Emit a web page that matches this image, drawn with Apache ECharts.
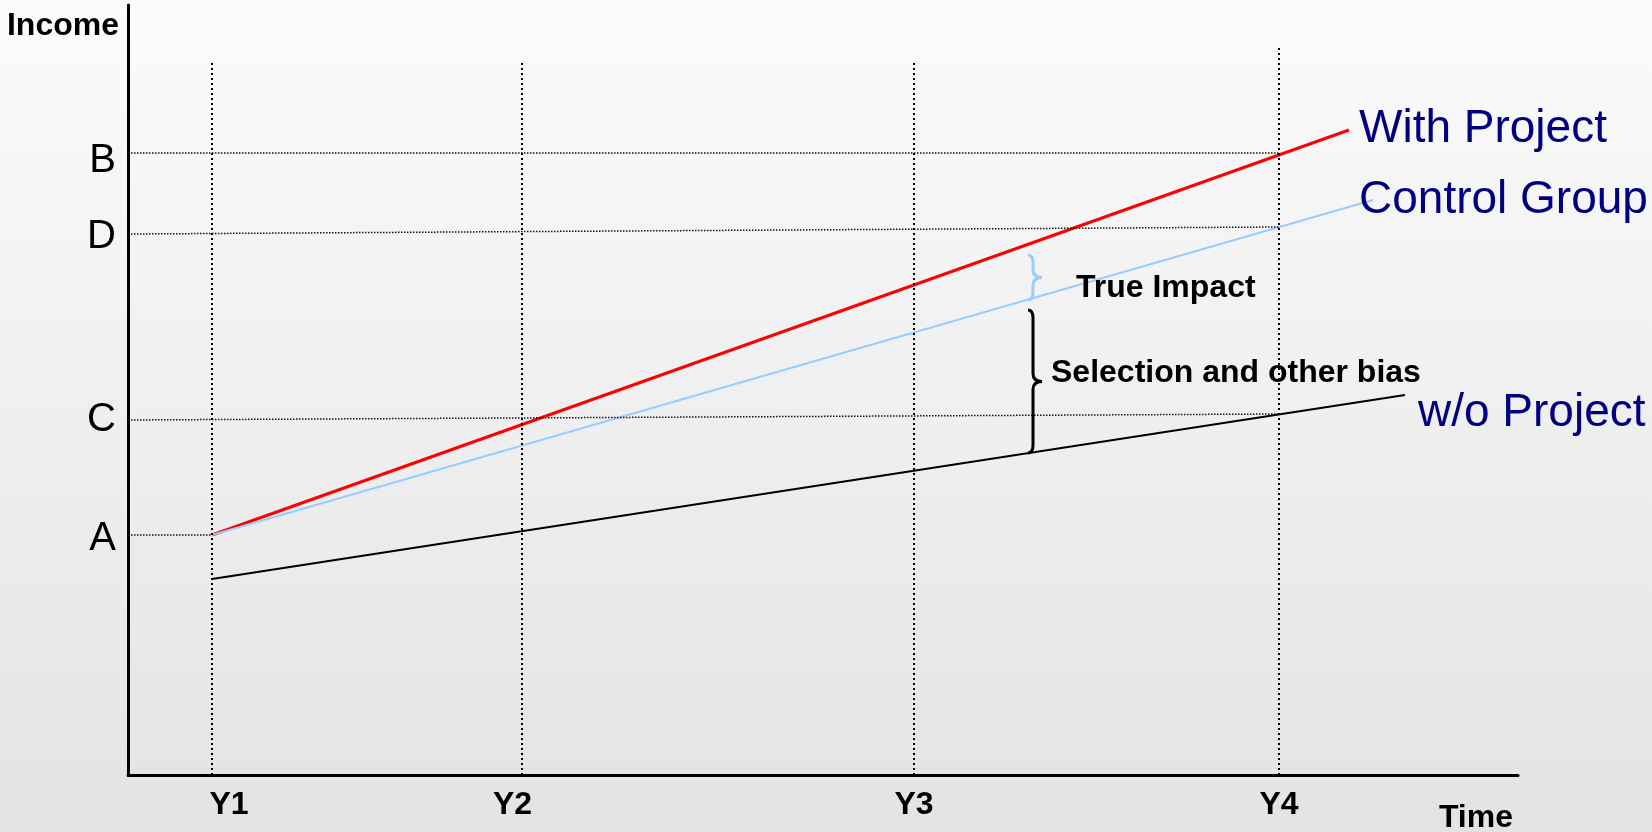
<!DOCTYPE html>
<html>
<head>
<meta charset="utf-8">
<script src="https://cdn.jsdelivr.net/npm/echarts@6/dist/echarts.min.js"></script>
<style>
  html, body { margin: 0; padding: 0; }
  #chart { width: 1652px; height: 832px; }
</style>
</head>
<body>
<div id="chart"></div>
<script>
// Survey rounds along the time axis
const periods = ['Y1', 'Y2', 'Y3', 'Y4'];
const periodX = [8.4, 39.4, 78.6, 115.1];
const periodTop = [71.2, 71.2, 71.2, 72.7];

// Income reference levels (value at the axis, value where the guide stops)
const levelNames = ['A', 'C', 'D', 'B'];
const levelLeft = [24.0, 35.5, 54.1, 62.2];
const levelRight = [24.0, 36.1, 54.8, 62.2];
const levelEndX = [8.4, 115.1, 115.1, 115.1];

// Income paths: [time, income] at start and end
const seriesNames = ['With Project', 'Control Group', 'w/o Project'];
const withProject = [[8.4, 24.0], [122.1, 64.5]];
const controlGroup = [[8.4, 24.0], [124.5, 57.5]];
const withoutProject = [[8.4, 19.6], [127.7, 38.0]];

// Gaps marked with braces: [time, upper income, lower income]
const braceLabels = ['True Impact', 'Selection and other bias'];
const braces = [[90.5, 52.0, 47.5], [90.5, 46.5, 32.2]];

const FONT = 'Liberation Sans, Arial, Helvetica, sans-serif';
const NAVY = '#000080';
const braceColors = ['#99ccff', '#000000'];
const braceTextOffset = [[34, 11], [9, -8]];

const chart = echarts.init(document.getElementById('chart'), null, { renderer: 'canvas' });

const guideLines = [];
periodX.forEach((x, i) => {
  guideLines.push([
    { coord: [x, periodTop[i]], lineStyle: { color: '#000', width: 2, type: [2, 3] } },
    { coord: [x, 0] }
  ]);
});
levelLeft.forEach((y, i) => {
  guideLines.push([
    { coord: [0, y], lineStyle: { color: '#111', width: 1.5, type: [1.5, 1.5] } },
    { coord: [levelEndX[i], levelRight[i]] }
  ]);
});

function lineSeries(name, data, color, width, offset) {
  return {
    name: name,
    type: 'line',
    data: data,
    z: 4,
    symbol: 'none',
    silent: true,
    lineStyle: { color: color, width: width },
    endLabel: {
      show: true,
      formatter: name,
      color: NAVY,
      fontSize: 46,
      fontFamily: FONT,
      distance: 0,
      align: 'left',
      verticalAlign: 'middle',
      offset: offset
    }
  };
}

const boldText = { fontSize: 32, fontWeight: 'bold', fontFamily: FONT, color: '#000' };
const levelText = { fontSize: 40, fontFamily: FONT, color: '#000' };

const option = {
  animation: false,
  backgroundColor: new echarts.graphic.LinearGradient(0, 0, 0, 1, [
    { offset: 0, color: '#fbfbfb' },
    { offset: 1, color: '#e3e3e3' }
  ]),
  grid: { left: 128, right: 134, top: 5, bottom: 57, outerBoundsMode: 'none', containLabel: false },
  xAxis: {
    type: 'value',
    min: 0,
    max: 139,
    name: 'Time',
    nameLocation: 'end',
    nameGap: 0,
    nameTextStyle: Object.assign({}, boldText, {
      align: 'right', verticalAlign: 'top', padding: [27, 5, 0, 0]
    }),
    axisLine: { show: true, lineStyle: { color: '#000', width: 3 } },
    axisTick: { show: false },
    splitLine: { show: false },
    axisLabel: Object.assign({}, boldText, {
      customValues: periodX,
      margin: 14,
      formatter: function (v) {
        const i = periodX.findIndex(x => Math.abs(x - v) < 1e-6);
        return '{p' + i + '|' + periods[i] + '}';
      },
      rich: {
        p0: Object.assign({}, boldText, { padding: [0, 0, 0, 34] }),
        p1: Object.assign({}, boldText, { padding: [0, 19, 0, 0] }),
        p2: Object.assign({}, boldText),
        p3: Object.assign({}, boldText)
      }
    })
  },
  yAxis: {
    type: 'value',
    min: 0,
    max: 77,
    name: 'Income',
    nameLocation: 'end',
    nameGap: -5,
    nameTextStyle: Object.assign({}, boldText, {
      align: 'right', verticalAlign: 'top', padding: [0, 9, 0, 0]
    }),
    axisLine: { show: true, lineStyle: { color: '#000', width: 3 } },
    axisTick: { show: false },
    splitLine: { show: false },
    axisLabel: Object.assign({}, levelText, {
      customValues: levelLeft,
      margin: 12,
      formatter: function (v) {
        const i = levelLeft.findIndex(y => Math.abs(y - v) < 1e-6);
        return '{' + levelNames[i] + '|' + levelNames[i] + '}';
      },
      rich: {
        A: Object.assign({}, levelText, { padding: [8, 0, 0, 0] }),
        C: Object.assign({}, levelText),
        D: Object.assign({}, levelText, { padding: [5, 0, 0, 0] }),
        B: Object.assign({}, levelText, { padding: [15, 0, 0, 0] })
      }
    })
  },
  series: [
    {
      name: 'guides',
      type: 'line',
      data: [],
      z: 1,
      silent: true,
      markLine: {
        silent: true,
        symbol: ['none', 'none'],
        label: { show: false },
        animation: false,
        data: guideLines
      }
    },
    lineSeries(seriesNames[0], withProject, '#ff0000', 3, [10, -1]),
    lineSeries(seriesNames[1], controlGroup, '#99ccff', 2, [-14, 0]),
    lineSeries(seriesNames[2], withoutProject, '#000000', 2, [13, 18]),
    {
      name: 'gaps',
      type: 'custom',
      z: 5,
      silent: true,
      data: braces,
      renderItem: function (params, api) {
        const i = params.dataIndex;
        const top = api.coord([api.value(0), api.value(1)]);
        const bot = api.coord([api.value(0), api.value(2)]);
        const xs = top[0], y0 = top[1], y1 = bot[1];
        const ym = (y0 + y1) / 2;
        const x0 = xs - 5, xt = xs + 9;
        const r = Math.min(8, (y1 - y0) / 4);
        const p = 'M' + x0 + ' ' + y0 +
          ' Q' + xs + ' ' + y0 + ' ' + xs + ' ' + (y0 + r) +
          ' L' + xs + ' ' + (ym - r) +
          ' Q' + xs + ' ' + ym + ' ' + xt + ' ' + ym +
          ' Q' + xs + ' ' + ym + ' ' + xs + ' ' + (ym + r) +
          ' L' + xs + ' ' + (y1 - r) +
          ' Q' + xs + ' ' + y1 + ' ' + x0 + ' ' + y1;
        const off = braceTextOffset[i];
        return {
          type: 'group',
          children: [
            { type: 'path', shape: { pathData: p }, style: { stroke: braceColors[i], lineWidth: 3, fill: 'none' } },
            {
              type: 'text',
              x: xt + off[0],
              y: ym + off[1],
              style: Object.assign({}, {
                text: braceLabels[i],
                fill: '#000',
                fontSize: 32,
                fontWeight: 'bold',
                fontFamily: FONT,
                align: 'left',
                verticalAlign: 'middle'
              })
            }
          ]
        };
      }
    }
  ]
};

chart.setOption(option);
</script>
</body>
</html>
